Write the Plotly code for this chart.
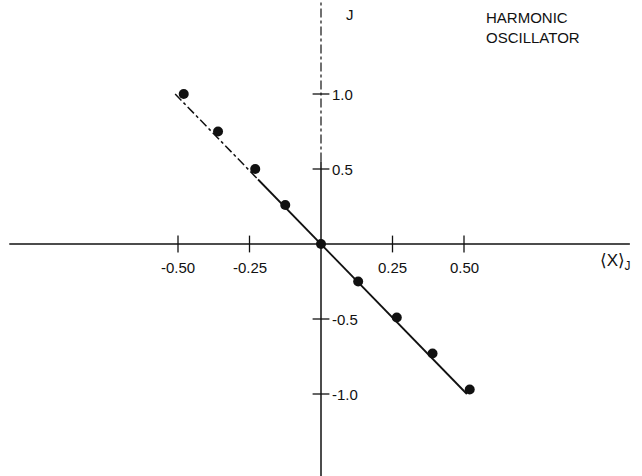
import plotly.graph_objects as go

# measured points <x>_J vs J
x_vals = [-0.48, -0.36, -0.23, -0.125, 0.0, 0.13, 0.265, 0.39, 0.52]
y_vals = [1.0, 0.75, 0.5, 0.26, 0.0, -0.25, -0.49, -0.73, -0.97]

# fitted straight line (dash-dot upper part, solid lower part)
fit_x_dash = [-0.51, -0.22]
fit_y_dash = [1.0, 0.43]
fit_x_solid = [-0.22, 0.51]
fit_y_solid = [0.43, -1.0]

x_ticks = [-0.5, -0.25, 0.25, 0.5]
x_tick_labels = ["-0.50", "-0.25", "0.25", "0.50"]
y_ticks = [1.0, 0.5, -0.5, -1.0]
y_tick_labels = ["1.0", "0.5", "-0.5", "-1.0"]

ink = "#111111"
font = dict(family="Liberation Sans, DejaVu Sans, sans-serif", size=15, color=ink)

fig = go.Figure()

# axes through the origin
fig.add_shape(type="line", x0=-1.09, x1=1.08, y0=0, y1=0, line=dict(color=ink, width=1.5))
fig.add_shape(type="line", x0=0, x1=0, y0=-1.55, y1=0.55, line=dict(color=ink, width=1.5))
fig.add_shape(type="line", x0=0, x1=0, y0=0.55, y1=1.63, line=dict(color=ink, width=1.2, dash="dashdot"))

fig.add_trace(go.Scatter(x=fit_x_dash, y=fit_y_dash, mode="lines",
                         line=dict(color=ink, width=1.5, dash="dashdot")))
fig.add_trace(go.Scatter(x=fit_x_solid, y=fit_y_solid, mode="lines",
                         line=dict(color=ink, width=1.8)))

# tick crosses
fig.add_trace(go.Scatter(x=x_ticks, y=[0] * len(x_ticks), mode="markers",
                         marker=dict(symbol="line-ns", size=12, line=dict(color=ink, width=1.3))))
fig.add_trace(go.Scatter(x=[0] * len(y_ticks), y=y_ticks, mode="markers",
                         marker=dict(symbol="line-ew", size=12, line=dict(color=ink, width=1.3))))

fig.add_trace(go.Scatter(x=x_vals, y=y_vals, mode="markers",
                         marker=dict(color=ink, size=10)))

for t, lab in zip(x_ticks, x_tick_labels):
    fig.add_annotation(x=t, y=0, text=lab, showarrow=False, yshift=-23, font=font)
for t, lab in zip(y_ticks, y_tick_labels):
    fig.add_annotation(x=0, y=t, text=lab, showarrow=False, xanchor="left", xshift=9, font=font)

fig.add_annotation(x=0.08, y=1.53, text="J", showarrow=False, xanchor="left", font=font)
fig.add_annotation(x=0.57, y=1.58, text="HARMONIC<br>OSCILLATOR", showarrow=False,
                   xanchor="left", yanchor="top", align="left", font=dict(font, size=15))
fig.add_annotation(x=0.97, y=-0.12, text="⟨X⟩<sub>J</sub>", showarrow=False,
                   xanchor="left", font=dict(font, size=17))

fig.update_layout(
    width=642, height=476,
    margin=dict(l=0, r=0, t=0, b=0),
    paper_bgcolor="white", plot_bgcolor="white",
    showlegend=False,
    xaxis=dict(range=[-1.1224, 1.1224], visible=False, fixedrange=True),
    yaxis=dict(range=[-1.5467, 1.6267], visible=False, fixedrange=True),
)

# drop the page's default body margin so the figure sits at the window's corner
fig.write_html("out.html", config={"displayModeBar": False},
               post_script="document.body.style.margin='0';")
